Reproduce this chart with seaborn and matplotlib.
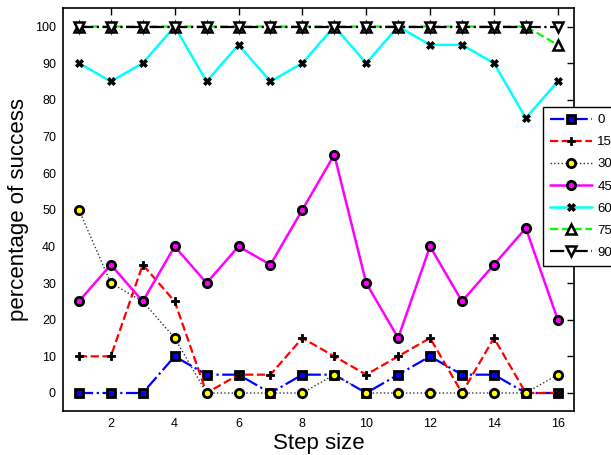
import matplotlib
matplotlib.use("Agg")
import matplotlib.pyplot as plt
import seaborn as sns
import pandas as pd

# Success rates (%) for each angle, per step size
steps = list(range(1, 17))
angle_labels = ["0", "15", "30", "45", "60", "75", "90"]
s0 = [0, 0, 0, 10, 5, 5, 0, 5, 5, 0, 5, 10, 5, 5, 0, 0]
s15 = [10, 10, 35, 25, 0, 5, 5, 15, 10, 5, 10, 15, 0, 15, 0, 0]
s30 = [50, 30, 25, 15, 0, 0, 0, 0, 5, 0, 0, 0, 0, 0, 0, 5]
s45 = [25, 35, 25, 40, 30, 40, 35, 50, 65, 30, 15, 40, 25, 35, 45, 20]
s60 = [90, 85, 90, 100, 85, 95, 85, 90, 100, 90, 100, 95, 95, 90, 75, 85]
s75 = [100, 100, 100, 100, 100, 100, 100, 100, 100, 100, 100, 100, 100, 100, 100, 95]
s90 = [100, 100, 100, 100, 100, 100, 100, 100, 100, 100, 100, 100, 100, 100, 100, 100]
series = [s0, s15, s30, s45, s60, s75, s90]

x_ticks = [2, 4, 6, 8, 10, 12, 14, 16]
y_ticks = [0, 10, 20, 30, 40, 50, 60, 70, 80, 90, 100]

sns.set_style("white")
plt.rcParams["font.family"] = ["Liberation Sans", "DejaVu Sans"]
plt.rcParams["text.color"] = "black"
plt.rcParams["axes.labelcolor"] = "black"
plt.rcParams["xtick.color"] = "black"
plt.rcParams["ytick.color"] = "black"

styles = [
    dict(color="#0000ff", linestyle="-.", marker="s", markersize=6,
         markerfacecolor="#0000ff", markeredgecolor="black", markeredgewidth=2, linewidth=1.6),
    dict(color="#ff0000", linestyle="--", marker="P", markersize=6,
         markerfacecolor="black", markeredgecolor="black", markeredgewidth=0.6, linewidth=1.6),
    dict(color="#333333", linestyle=":", marker="o", markersize=6,
         markerfacecolor="#ffff00", markeredgecolor="black", markeredgewidth=2, linewidth=1.0),
    dict(color="#ff00ff", linestyle="-", marker="o", markersize=6,
         markerfacecolor="#ff00ff", markeredgecolor="black", markeredgewidth=2, linewidth=1.8),
    dict(color="#00ffff", linestyle="-", marker="X", markersize=5.5,
         markerfacecolor="black", markeredgecolor="black", markeredgewidth=0.5, linewidth=1.8),
    dict(color="#00ff00", linestyle="--", marker="^", markersize=6.5,
         markerfacecolor="white", markeredgecolor="black", markeredgewidth=1.8, linewidth=1.6),
    dict(color="black", linestyle="-.", marker="v", markersize=6.5,
         markerfacecolor="white", markeredgecolor="black", markeredgewidth=1.8, linewidth=1.6),
]

fig = plt.figure(figsize=(6.11, 4.55), dpi=100)
ax = fig.add_axes([0.103, 0.096, 0.836, 0.886])

for label, vals, st in zip(angle_labels, series, styles):
    df = pd.DataFrame({"step": steps, "success": vals})
    sns.lineplot(data=df, x="step", y="success", ax=ax, label=label, **st)

ax.set_xlim(0.5, 16.5)
ax.set_ylim(-5, 105)
ax.set_xticks(x_ticks)
ax.set_yticks(y_ticks)
ax.tick_params(direction="in", length=5, width=1, top=True, right=True,
               labelsize=9, colors="black", pad=5)
for sp in ax.spines.values():
    sp.set_visible(True)
    sp.set_color("black")
    sp.set_linewidth(1.2)

ax.set_xlabel("Step size", fontsize=16, labelpad=2)
ax.set_ylabel("percentage of success", fontsize=16, labelpad=4)

leg = ax.legend(loc="upper left", bbox_to_anchor=(0.889, 0.764),
                bbox_transform=fig.transFigure, fontsize=9.5, numpoints=1,
                handlelength=3.2, handletextpad=0.4, labelspacing=0.75,
                borderpad=0.5, fancybox=False, framealpha=1,
                edgecolor="black", borderaxespad=0)
leg.get_frame().set_linewidth(1.0)
for t in leg.get_texts():
    t.set_color("black")

fig.savefig("out.png", dpi=100)
